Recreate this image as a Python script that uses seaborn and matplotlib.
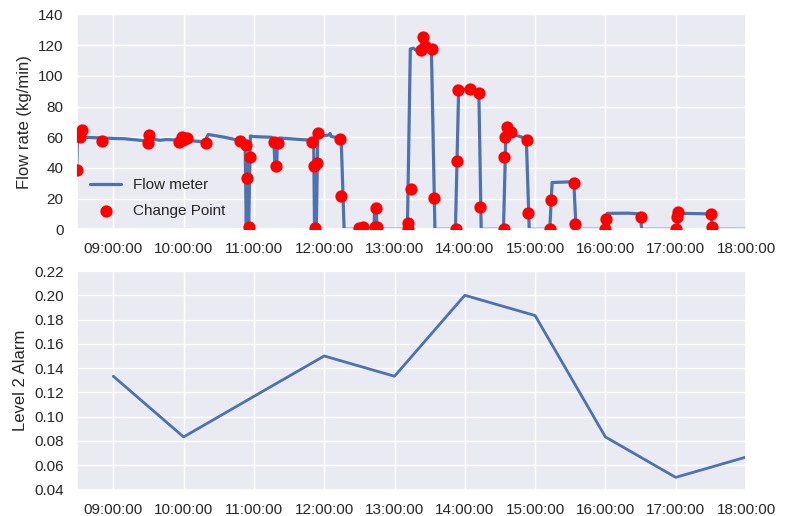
import matplotlib
matplotlib.use("Agg")
import matplotlib.pyplot as plt
import matplotlib.dates as mdates
import matplotlib.ticker as mticker
import seaborn as sns
import pandas as pd

# ---- Flow meter trace (vertices) ----
flow_times = [
    "08:28:45", "08:29:30", "08:31:00", "08:35:00", "09:00:00", "09:10:00",
    "09:28:00", "09:32:00", "09:40:00", "09:45:00", "10:00:00", "10:18:00",
    "10:21:00", "10:35:00", "10:47:00", "10:51:00", "10:52:30", "10:53:30",
    "10:54:30", "10:55:30", "10:57:00", "11:00:00", "11:15:00", "11:17:00",
    "11:18:00", "11:19:30", "11:20:00", "11:22:00", "11:40:00", "11:50:00",
    "11:51:00", "11:51:45", "11:52:30", "11:53:15", "11:54:30", "12:00:00",
    "12:04:00", "12:05:00", "12:06:00", "12:13:00", "12:14:30", "12:17:00",
    "12:42:30", "12:43:00", "12:44:30", "12:45:00", "13:11:00", "13:13:30",
    "13:16:00", "13:18:00", "13:31:30", "13:34:30", "13:52:00", "13:54:45",
    "14:05:00", "14:12:00", "14:14:00", "14:33:00", "14:35:00", "14:37:00",
    "14:45:00", "14:52:30", "14:55:00", "15:12:30", "15:14:30", "15:33:00",
    "15:35:00", "15:59:00", "16:01:30", "16:20:00", "16:29:30", "16:31:00",
    "17:01:00", "17:03:00", "17:20:00", "17:30:00", "17:31:30", "18:00:00",
]
flow_values = [
    38.7, 63.5, 60.5, 60.0, 59.2, 59.0,
    57.6, 59.0, 58.0, 58.5, 58.0, 57.0,
    61.8, 60.0, 58.0, 56.5, 55.5, 0.0,
    47.0, 0.0, 60.8, 60.4, 60.0, 57.5,
    41.5, 41.5, 57.5, 59.5, 58.5, 58.0,
    57.5, 0.0, 42.0, 0.0, 60.5, 61.0,
    61.5, 62.5, 60.5, 59.5, 58.5, 0.0,
    0.0, 14.1, 14.1, 0.0, 0.0, 117.5,
    118.0, 117.0, 117.0, 0.0, 0.0, 91.0,
    91.5, 89.0, 0.0, 0.0, 60.5, 61.5,
    61.0, 59.0, 0.0, 0.0, 30.5, 31.0,
    0.0, 0.0, 10.4, 10.5, 10.0, 0.0,
    0.0, 10.4, 10.2, 10.0, 0.0, 0.0,
]

# ---- Change points ----
cp_times = [
    "08:28:45", "08:31:12", "08:33:00", "08:50:24", "09:30:36", "09:30:00",
    "09:58:12", "09:56:24", "10:03:00", "09:59:24", "10:19:12", "10:48:00",
    "10:53:24", "10:57:00", "10:54:00", "10:55:48", "11:16:48", "11:20:24",
    "11:18:36", "11:49:48", "11:54:36", "11:51:00", "11:54:00", "11:52:12",
    "12:13:48", "12:14:24", "12:29:24", "12:33:00", "12:43:48", "12:43:12",
    "12:45:00", "13:13:48", "13:11:24", "13:11:24", "13:24:36", "13:22:48",
    "13:25:48", "13:32:24", "13:33:36", "13:54:36", "14:04:12", "14:12:00",
    "13:53:24", "13:52:12", "14:13:12", "14:36:00", "14:39:00", "14:34:12",
    "14:53:24", "14:33:36", "14:33:36", "14:54:00", "15:13:12", "15:12:36",
    "15:33:00", "15:34:12", "16:00:36", "15:59:24", "16:30:00", "17:01:48",
    "17:01:12", "17:00:36", "17:30:00", "17:30:36",
]
cp_values = [
    38.7, 60.4, 64.8, 57.6, 61.5, 56.1,
    60.4, 56.8, 59.4, 58.0, 56.1, 57.8,
    55.0, 47.0, 33.3, 1.3, 57.2, 56.1,
    41.3, 57.2, 62.6, 41.3, 43.1, 0.7,
    58.7, 21.7, 0.7, 1.7, 14.1, 1.3,
    1.3, 26.1, 4.3, 0.0, 125.3, 116.6,
    119.2, 117.5, 20.2, 90.9, 91.6, 88.8,
    44.6, 0.0, 14.8, 66.6, 63.1, 60.4,
    58.3, 47.4, 0.0, 10.4, 19.1, 0.0,
    30.0, 3.5, 6.5, 0.0, 8.2, 11.1,
    8.2, 0.0, 10.0, 1.3,
]

# ---- Level 2 alarm (hourly) ----
alarm_times = ["09:00:00", "10:00:00", "11:00:00", "12:00:00", "13:00:00",
               "14:00:00", "15:00:00", "16:00:00", "17:00:00", "18:00:00"]
alarm_values = [0.1333, 0.0833, 0.1167, 0.15, 0.1333,
                0.20, 0.1833, 0.0833, 0.05, 0.0667]

flow_yticks = [0, 20, 40, 60, 80, 100, 120, 140]
alarm_yticks = [0.04, 0.06, 0.08, 0.10, 0.12, 0.14, 0.16, 0.18, 0.20, 0.22]

sns.set_theme(style="darkgrid", context="notebook")
plt.rcParams['font.family'] = ['Liberation Sans', 'DejaVu Sans']

day = "2016-05-10 "
flow_df = pd.DataFrame({"time": pd.to_datetime([day + t for t in flow_times]),
                        "flow": flow_values})
cp_df = pd.DataFrame({"time": pd.to_datetime([day + t for t in cp_times]),
                      "value": cp_values})
alarm_df = pd.DataFrame({"time": pd.to_datetime([day + t for t in alarm_times]),
                         "alarm": alarm_values})

W, H = 792, 516
fig = plt.figure(figsize=(W / 100, H / 100), dpi=100)
left, right = 76.7, 746.0
ax1 = fig.add_axes([left / W, (H - 229.3) / H, (right - left) / W, (229.3 - 14.5) / H])
ax2 = fig.add_axes([left / W, (H - 489.5) / H, (right - left) / W, (489.5 - 271.0) / H])

sns.lineplot(data=flow_df, x="time", y="flow", ax=ax1, color="#4C72B0",
             linewidth=2.3, estimator=None, sort=False, label="Flow meter")
sns.scatterplot(data=cp_df, x="time", y="value", ax=ax1, color="red", s=78,
                linewidth=0, label="Change Point", zorder=3, clip_on=True)

sns.lineplot(data=alarm_df, x="time", y="alarm", ax=ax2, color="#4C72B0",
             linewidth=2.0, estimator=None, sort=False)

xmin = pd.Timestamp(day + flow_times[0])
xmax = pd.Timestamp(day + flow_times[-1])
for ax in (ax1, ax2):
    ax.set_xlim(xmin, xmax)
    ax.xaxis.set_major_locator(mdates.HourLocator())
    ax.xaxis.set_major_formatter(mdates.DateFormatter("%H:%M:%S"))
    ax.set_xlabel("")
    ax.tick_params(labelsize=11)

ax1.set_ylim(0, 140)
ax1.set_yticks(flow_yticks)
ax1.set_ylabel("Flow rate (kg/min)", fontsize=12)
ax2.set_ylim(0.04, 0.22)
ax2.set_yticks(alarm_yticks)
ax2.yaxis.set_major_formatter(mticker.FormatStrFormatter("%.2f"))
ax2.set_ylabel("Level 2 Alarm", fontsize=12)

ax1.legend(loc="lower left", frameon=False, fontsize=11, labelspacing=0.75,
           bbox_to_anchor=(0.0, -0.01))

fig.savefig("out.png", dpi=100)
